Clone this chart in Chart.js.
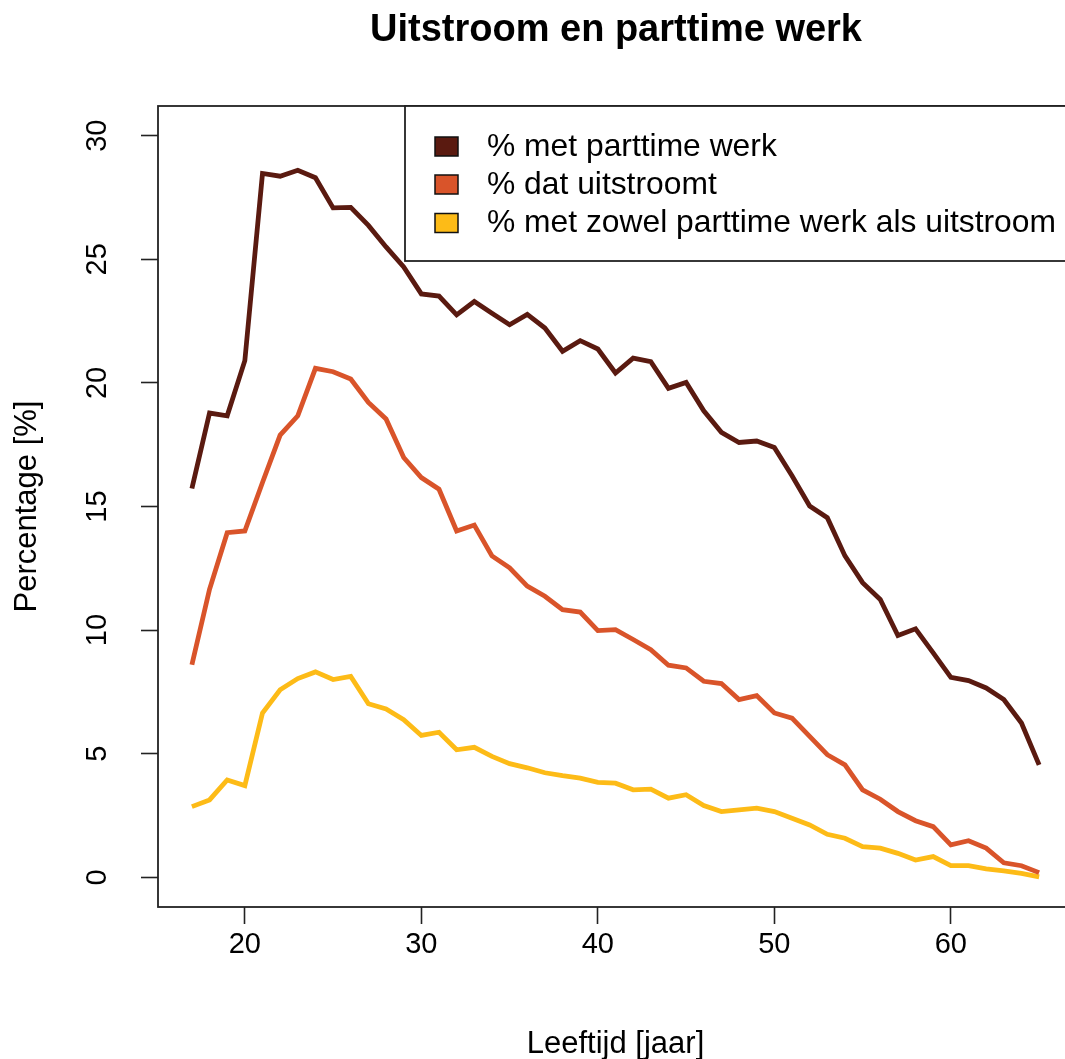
<!DOCTYPE html>
<html>
<head>
<meta charset="utf-8">
<script src="https://cdn.jsdelivr.net/npm/chart.js@4/dist/chart.umd.min.js"></script>
<style>
html,body{margin:0;padding:0;background:#fff;overflow:hidden;}
#wrap{width:1085px;height:1059px;}
</style>
</head>
<body>
<div id="wrap"><canvas id="c" width="1085" height="1059"></canvas></div>
<script>
const titleText = "Uitstroom en parttime werk";
const xTitle = "Leeftijd [jaar]";
const yTitle = "Percentage [%]";
const ages = [17,18,19,20,21,22,23,24,25,26,27,28,29,30,31,32,33,34,35,36,37,38,39,40,41,42,43,44,45,46,47,48,49,50,51,52,53,54,55,56,57,58,59,60,61,62,63,64,65];
const parttime = [15.73,18.78,18.67,20.9,28.47,28.36,28.6,28.3,27.08,27.1,26.37,25.5,24.69,23.6,23.51,22.75,23.29,22.82,22.35,22.77,22.22,21.28,21.71,21.37,20.4,21.0,20.86,19.78,20.02,18.87,18.0,17.59,17.65,17.39,16.24,15.02,14.55,13.0,11.92,11.24,9.78,10.05,9.08,8.09,7.96,7.66,7.19,6.24,4.55];
const uitstroom = [8.6,11.65,13.94,14.01,15.97,17.89,18.67,20.59,20.45,20.16,19.21,18.54,16.98,16.17,15.7,14.01,14.25,13.0,12.52,11.78,11.37,10.83,10.73,9.98,10.02,9.62,9.21,8.58,8.47,7.93,7.84,7.19,7.35,6.65,6.44,5.7,4.96,4.55,3.54,3.16,2.66,2.29,2.05,1.31,1.48,1.18,0.59,0.47,0.19];
const zowel = [2.86,3.13,3.94,3.71,6.65,7.59,8.04,8.31,8.0,8.13,7.02,6.81,6.38,5.74,5.87,5.16,5.26,4.89,4.6,4.43,4.23,4.11,4.01,3.84,3.81,3.54,3.57,3.2,3.34,2.9,2.66,2.73,2.8,2.66,2.39,2.12,1.74,1.58,1.24,1.18,0.97,0.7,0.84,0.47,0.47,0.34,0.26,0.16,0.02];
const seriesLabels = ["% met parttime werk","% dat uitstroomt","% met zowel parttime werk als uitstroom"];
const seriesColors = ["#5a1a10","#d9542a","#fdbb17"];
const xTicks = [20,30,40,50,60];
const yTicks = [0,5,10,15,20,25,30];

const FONT = "'Liberation Sans', Arial, Helvetica, sans-serif";

function pts(vals){ return ages.map((a,i)=>({x:a,y:vals[i]})); }

const overlay = {
  id:'overlay',
  afterDraw(chart){
    const ctx = chart.ctx, ca = chart.chartArea;
    const ys = chart.scales.y, xs = chart.scales.x;
    ctx.save();
    // plot box
    ctx.strokeStyle = '#222'; ctx.lineWidth = 1.8;
    ctx.strokeRect(ca.left, ca.top, ca.right-ca.left, ca.bottom-ca.top);
    // title
    ctx.fillStyle = '#000';
    ctx.font = "bold 38px " + FONT;
    ctx.textAlign = 'center'; ctx.textBaseline = 'middle';
    ctx.fillText(titleText, 616, 31);
    // x title
    ctx.font = "31px " + FONT;
    ctx.fillText(xTitle, (ca.left + ca.right)/2, 1044);
    // y title
    ctx.save();
    ctx.translate(27, (ca.top+ca.bottom)/2);
    ctx.rotate(-Math.PI/2);
    ctx.fillText(yTitle, 0, 0);
    ctx.restore();
    // y tick labels rotated
    ctx.font = "29px " + FONT;
    ys.ticks.forEach(t=>{
      const y = ys.getPixelForValue(t.value);
      ctx.save();
      ctx.translate(98, y);
      ctx.rotate(-Math.PI/2);
      ctx.fillText(String(t.value), 0, 0);
      ctx.restore();
    });
    // legend
    const lx = 405, ly = ca.top;
    ctx.fillStyle = '#fff';
    ctx.fillRect(lx, ly, 1100-lx, 261-ly);
    ctx.strokeStyle = '#222'; ctx.lineWidth = 1.8;
    ctx.strokeRect(lx, ly, 1100-lx, 261-ly);
    ctx.font = "31.8px " + FONT;
    ctx.textAlign = 'left';
    const rows = [146,184,222.5];
    seriesLabels.forEach((lab,i)=>{
      ctx.fillStyle = seriesColors[i];
      ctx.fillRect(435, rows[i]-9, 23, 19);
      ctx.strokeStyle = '#111'; ctx.lineWidth = 1.5;
      ctx.strokeRect(435, rows[i]-9, 23, 19);
      ctx.fillStyle = '#000';
      ctx.fillText(lab, 487, rows[i]+1);
    });
    ctx.restore();
  }
};

new Chart(document.getElementById('c'), {
  type:'line',
  data:{
    datasets:[
      {label:seriesLabels[0], data:pts(parttime), borderColor:seriesColors[0]},
      {label:seriesLabels[1], data:pts(uitstroom), borderColor:seriesColors[1]},
      {label:seriesLabels[2], data:pts(zowel), borderColor:seriesColors[2]}
    ].map(d=>Object.assign(d,{borderWidth:4.8, pointRadius:0, tension:0, fill:false, borderJoinStyle:'miter'}))
  },
  options:{
    responsive:false, animation:false,
    layout:{padding:{left:0,right:12,top:106,bottom:0}},
    plugins:{legend:{display:false}, title:{display:false}, tooltip:{enabled:false}},
    scales:{
      x:{type:'linear', min:15.08, max:66.92,
        afterBuildTicks:s=>{s.ticks = xTicks.map(v=>({value:v}));},
        afterFit:s=>{s.height = 1059-907;},
        grid:{drawOnChartArea:false, drawTicks:true, tickLength:17, tickColor:'#222', tickWidth:1.6},
        border:{display:false},
        ticks:{color:'#000', font:{size:29, family:FONT}, padding:4, maxRotation:0, autoSkip:false}
      },
      y:{type:'linear', min:-1.2, max:31.2,
        afterBuildTicks:s=>{s.ticks = yTicks.map(v=>({value:v}));},
        afterFit:s=>{s.width = 158;},
        grid:{drawOnChartArea:false, drawTicks:true, tickLength:17, tickColor:'#222', tickWidth:1.6},
        border:{display:false},
        ticks:{display:false}
      }
    }
  },
  plugins:[overlay]
});
</script>
</body>
</html>
